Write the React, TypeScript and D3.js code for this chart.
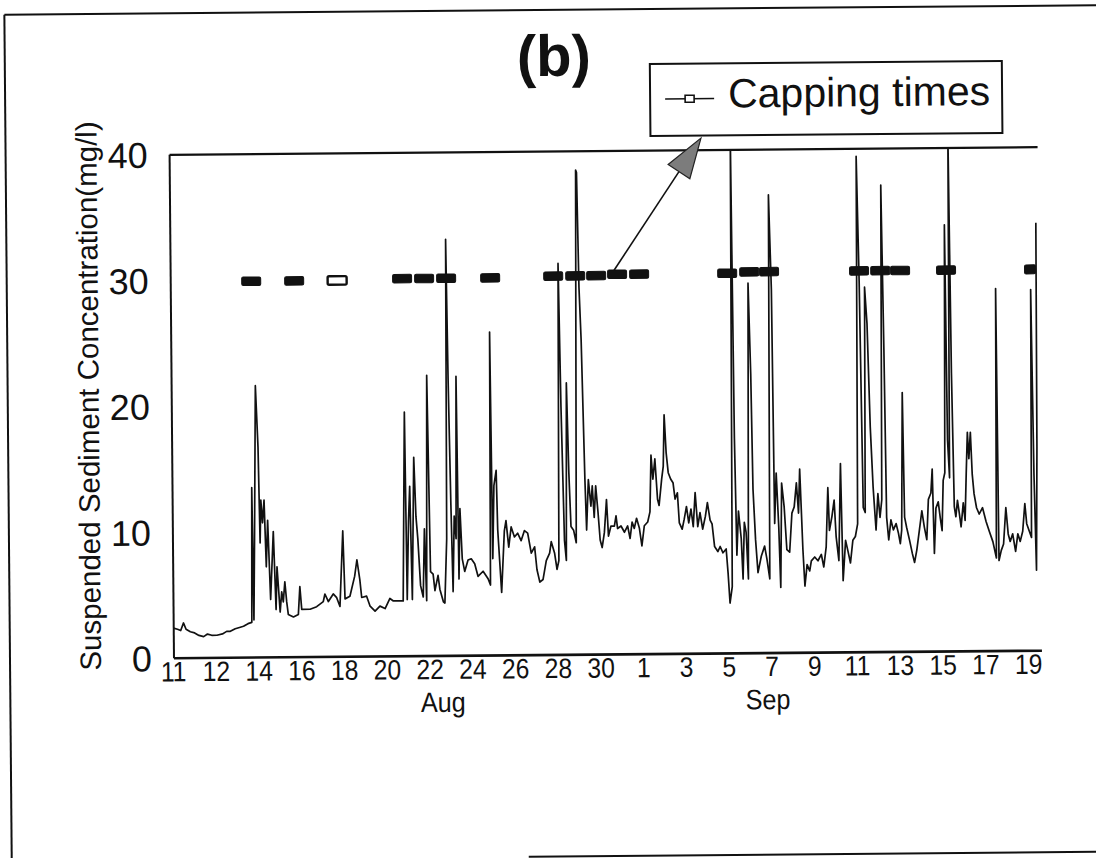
import React from "react";
import * as d3 from "d3";

// Day numbers count from 1 August (so 1 Sep = 32, 19 Sep = 50).
const tickDays = [10, 12, 14, 16, 18, 20, 22, 24, 26, 28, 30, 32, 34, 36, 38, 40, 42, 44, 46, 48, 50];
const tickLabels = ["11", "12", "14", "16", "18", "20", "22", "24", "26", "28", "30", "1", "3", "5", "7", "9", "11", "13", "15", "17", "19"];
const monthNames = ["Aug", "Sep"];
const monthCenters = [22.6, 37.8];
const yTicks = [0, 10, 20, 30, 40];

// Suspended sediment concentration record: [day, mg/l]
const sediment: [number, number][] = [
  [10.01, 2.4], [10.2, 2.3], [10.35, 2.2], [10.48, 2.8], [10.6, 2.3], [10.8, 2.1], [11.0, 2.0], [11.2, 1.8],
  [11.42, 1.7], [11.6, 1.9], [11.8, 1.8], [12.04, 1.8], [12.3, 1.9], [12.5, 2.1], [12.67, 2.1], [12.9, 2.3],
  [13.1, 2.4], [13.29, 2.5], [13.5, 2.7], [13.68, 2.8], [13.73, 13.5], [13.78, 3.0], [13.84, 9.4], [13.94, 21.6],
  [14.04, 16.7], [14.1, 9.1], [14.15, 12.5], [14.22, 10.7], [14.3, 12.5], [14.38, 7.2], [14.46, 10.9], [14.57, 4.6],
  [14.72, 10.0], [14.82, 3.8], [14.88, 7.2], [15.01, 3.6], [15.09, 5.2], [15.16, 4.4], [15.24, 6.0], [15.32, 4.4],
  [15.39, 3.4], [15.63, 3.2], [15.86, 3.4], [15.94, 5.6], [16.02, 3.8], [16.41, 3.8], [16.72, 4.0], [17.03, 4.4],
  [17.11, 5.0], [17.27, 4.4], [17.5, 5.0], [17.66, 4.7], [17.81, 4.0], [17.97, 10.0], [18.05, 4.6], [18.28, 4.8],
  [18.51, 6.4], [18.62, 7.7], [18.75, 6.1], [18.83, 4.7], [19.06, 4.8], [19.22, 4.0], [19.45, 3.6], [19.68, 4.0],
  [19.92, 3.8], [20.15, 4.6], [20.31, 4.4], [20.77, 4.4], [20.9, 19.4], [20.96, 4.5], [21.05, 10.7], [21.12, 13.5],
  [21.2, 4.5], [21.32, 15.8], [21.4, 11.1], [21.48, 9.3], [21.59, 5.6], [21.71, 4.7], [21.79, 10.1], [21.87, 4.4],
  [21.96, 22.3], [22.06, 6.7], [22.18, 6.5], [22.26, 5.2], [22.41, 6.4], [22.49, 5.3], [22.65, 4.3], [22.72, 4.2],
  [22.83, 9.3], [22.9, 33.1], [22.96, 22.0], [23.04, 12.0], [23.11, 5.1], [23.19, 11.1], [23.27, 9.3], [23.33, 22.2],
  [23.39, 6.1], [23.46, 11.7], [23.55, 7.7], [23.66, 6.7], [23.82, 7.6], [23.97, 7.7], [24.13, 7.3], [24.28, 6.3],
  [24.52, 6.7], [24.75, 6.1], [24.86, 5.6], [24.92, 25.7], [24.98, 7.7], [25.06, 13.5], [25.17, 14.7], [25.22, 10.0],
  [25.38, 5.0], [25.53, 9.9], [25.61, 10.7], [25.73, 8.6], [25.85, 10.2], [26.0, 9.4], [26.15, 9.7], [26.31, 9.1],
  [26.47, 9.9], [26.62, 9.7], [26.78, 8.1], [26.94, 8.6], [27.04, 6.8], [27.17, 5.8], [27.32, 6.0], [27.48, 7.5],
  [27.64, 8.1], [27.72, 9.0], [27.87, 8.1], [27.98, 6.8], [28.07, 7.5], [28.15, 31.1], [28.23, 19.7], [28.34, 9.1],
  [28.42, 7.5], [28.49, 21.6], [28.57, 14.5], [28.65, 10.2], [28.77, 9.9], [28.89, 8.9], [28.96, 26.4], [29.01, 38.5],
  [29.05, 38.3], [29.12, 29.2], [29.2, 25.0], [29.32, 13.9], [29.38, 9.9], [29.48, 13.9], [29.59, 11.8], [29.66, 13.4],
  [29.74, 10.9], [29.82, 13.4], [29.92, 11.3], [30.01, 9.1], [30.1, 8.5], [30.21, 9.7], [30.32, 12.3], [30.4, 9.4],
  [30.52, 10.2], [30.68, 10.2], [30.76, 11.0], [30.83, 10.0], [30.99, 10.2], [31.15, 9.7], [31.3, 10.2], [31.41, 9.2],
  [31.51, 10.5], [31.61, 10.0], [31.72, 10.8], [31.85, 10.0], [31.96, 8.6], [32.08, 10.2], [32.24, 10.5], [32.35, 11.3],
  [32.42, 15.8], [32.5, 13.9], [32.6, 15.5], [32.71, 12.3], [32.78, 11.8], [32.91, 13.9], [32.99, 14.9], [33.05, 19.0],
  [33.13, 16.0], [33.22, 14.4], [33.33, 13.9], [33.44, 13.6], [33.53, 12.3], [33.64, 12.8], [33.72, 10.4], [33.85, 9.9],
  [33.95, 10.7], [34.06, 11.7], [34.16, 10.4], [34.27, 11.5], [34.37, 10.1], [34.47, 12.8], [34.58, 10.1], [34.69, 11.2],
  [34.81, 9.9], [34.94, 10.9], [35.04, 12.0], [35.16, 10.6], [35.25, 10.3], [35.36, 8.5], [35.51, 8.1], [35.62, 8.5],
  [35.75, 8.0], [35.9, 8.3], [35.98, 6.4], [36.06, 4.0], [36.17, 5.3], [36.26, 41.0], [36.33, 17.1], [36.4, 7.8],
  [36.49, 11.3], [36.61, 9.1], [36.68, 5.9], [36.76, 10.4], [36.84, 9.6], [36.93, 5.9], [37.03, 29.4], [37.12, 22.2],
  [37.18, 13.0], [37.28, 9.0], [37.38, 6.4], [37.54, 7.7], [37.7, 8.5], [37.8, 7.5], [37.93, 5.9], [38.02, 36.4],
  [38.12, 28.9], [38.18, 10.3], [38.27, 14.3], [38.37, 10.0], [38.44, 5.2], [38.52, 13.5], [38.63, 11.6], [38.74, 8.2],
  [38.87, 8.0], [38.99, 11.1], [39.1, 11.6], [39.21, 13.5], [39.3, 11.1], [39.37, 14.6], [39.49, 8.2], [39.57, 5.3],
  [39.68, 7.0], [39.8, 6.5], [39.88, 7.3], [40.04, 7.6], [40.19, 7.3], [40.35, 7.8], [40.46, 6.8], [40.58, 8.4],
  [40.68, 13.1], [40.74, 9.7], [40.86, 10.8], [40.97, 12.1], [41.05, 9.2], [41.17, 7.3], [41.28, 15.0], [41.36, 5.7],
  [41.49, 8.9], [41.59, 8.1], [41.71, 7.1], [41.83, 8.9], [41.95, 9.2], [42.06, 10.2], [42.14, 39.4], [42.23, 29.5],
  [42.33, 11.5], [42.42, 11.1], [42.48, 29.0], [42.58, 26.1], [42.69, 17.9], [42.8, 13.1], [42.92, 9.7], [43.02, 12.6],
  [43.11, 10.7], [43.2, 12.1], [43.28, 37.1], [43.36, 24.0], [43.42, 10.7], [43.51, 8.9], [43.62, 10.5], [43.73, 9.7],
  [43.86, 10.2], [43.97, 9.4], [44.05, 8.6], [44.12, 9.7], [44.2, 20.6], [44.26, 10.7], [44.35, 9.9], [44.48, 8.9],
  [44.61, 7.8], [44.71, 7.1], [44.82, 8.1], [44.95, 9.7], [45.07, 11.2], [45.18, 9.9], [45.29, 8.9], [45.38, 12.1],
  [45.5, 12.6], [45.57, 14.5], [45.64, 7.8], [45.73, 11.4], [45.84, 11.9], [45.93, 10.6], [46.01, 9.6], [46.08, 13.6],
  [46.16, 14.2], [46.24, 33.9], [46.3, 16.8], [46.38, 13.8], [46.44, 41.0], [46.51, 22.1], [46.59, 11.5], [46.66, 10.7],
  [46.74, 12.0], [46.82, 11.0], [46.9, 9.9], [47.01, 11.8], [47.09, 10.4], [47.16, 14.1], [47.23, 17.4], [47.29, 15.3],
  [47.37, 17.4], [47.44, 14.1], [47.52, 12.5], [47.63, 11.4], [47.75, 10.9], [47.91, 11.4], [48.07, 10.3], [48.22, 9.5],
  [48.38, 8.7], [48.54, 7.4], [48.61, 28.8], [48.66, 7.2], [48.77, 8.0], [48.88, 8.5], [49.0, 11.4], [49.1, 9.3],
  [49.19, 8.7], [49.31, 9.3], [49.44, 7.9], [49.55, 9.3], [49.66, 8.7], [49.78, 9.5], [49.89, 11.7], [49.97, 10.1],
  [50.09, 9.5], [50.19, 9.0], [50.25, 28.7], [50.33, 14.0], [50.41, 6.4], [50.48, 16.2], [50.52, 34.0],
];

// Capping events
const cappingDays = [13.79, 15.8, 17.81, 20.85, 21.88, 22.91, 24.97, 27.92, 28.95, 29.93, 30.91, 31.94, 36.06, 37.09, 38.02, 42.23, 43.22, 44.15, 46.3, 50.23];
const cappingLevels = [29.9, 29.9, 29.9, 30.0, 30.0, 30.0, 30.0, 30.1, 30.1, 30.1, 30.2, 30.2, 30.2, 30.3, 30.3, 30.3, 30.3, 30.3, 30.3, 30.3];
const hollowCaps = [17.81];
const legendLabel = "Capping times";
const yTitle = "Suspended Sediment Concentration(mg/l)";
const panelTitle = "(b)";

const W = 1096;
const H = 858;
const plot = { left: 172, right: 1040, top: 151.5, bottom: 655 };
const FONT = "'Liberation Sans', Arial, Helvetica, sans-serif";

export default function App() {
  const x = d3.scaleLinear().domain([10, 50]).range([171.5, 1026.5]);
  const y = d3.scaleLinear().domain([0, 40]).range([plot.bottom, plot.top]);

  const line = d3
    .line<[number, number]>()
    .x((d) => x(d[0]))
    .y((d) => y(d[1]))
    .curve(d3.curveLinear);

  const arrowTail: [number, number] = [x(30.91) - 3, y(30.2) - 4];
  const arrowTip: [number, number] = [703.5, 139.5];
  const ang = Math.atan2(arrowTip[1] - arrowTail[1], arrowTip[0] - arrowTail[0]);
  const headLen = 40;
  const headHalf = 13;
  const baseX = arrowTip[0] - headLen * Math.cos(ang);
  const baseY = arrowTip[1] - headLen * Math.sin(ang);
  const px = -Math.sin(ang);
  const py = Math.cos(ang);
  const head = `M${arrowTip[0]},${arrowTip[1]} L${baseX + headHalf * px},${baseY + headHalf * py} L${baseX - headHalf * px},${baseY - headHalf * py} Z`;

  return (
    <svg
      width={W}
      height={H}
      viewBox={`0 0 ${W} ${H}`}
      style={{ position: "absolute", left: 0, top: 0, background: "#fff" }}
      fontFamily={FONT}
    >
      <defs>
        <clipPath id="plotClip">
          <rect x={plot.left} y={plot.top} width={plot.right - plot.left} height={plot.bottom - plot.top} />
        </clipPath>
      </defs>
      <rect x={0} y={0} width={W} height={H} fill="#fff" />
      <g transform="rotate(-0.5 548 429)">
        {/* outer figure frame: left, top and lower-right edges */}
        <line x1={8} x2={8} y1={10} y2={870} stroke="#111" strokeWidth={2} />
        <line x1={8} x2={1110} y1={10} y2={10} stroke="#111" strokeWidth={2} />
        <line x1={525} x2={1110} y1={856.5} y2={856.5} stroke="#111" strokeWidth={2} />

        {/* panel title */}
        <text x={557} y={76} textAnchor="middle" fontSize={58} fontWeight="bold" fill="#111">
          {panelTitle}
        </text>

        {/* data trace */}
        <path d={line(sediment) || ""} fill="none" stroke="#111" strokeWidth={1.7} strokeLinejoin="round" clipPath="url(#plotClip)" />

        {/* capping markers */}
        {cappingDays.map((d, i) => {
          const last = i === cappingDays.length - 1;
          const w = last ? 11 : 19;
          const h = last ? 9 : 8.5;
          const hollow = hollowCaps.includes(d);
          return (
            <rect
              key={i}
              x={x(d) - w / 2}
              y={y(cappingLevels[i]) - h / 2}
              width={w}
              height={h}
              rx={1.5}
              fill={hollow ? "#fff" : "#111"}
              stroke="#111"
              strokeWidth={hollow ? 2.4 : 1}
            />
          );
        })}

        {/* axes frame: left, bottom, top */}
        <line x1={plot.left} x2={plot.left} y1={plot.top} y2={plot.bottom} stroke="#111" strokeWidth={2} />
        <line x1={plot.left} x2={plot.right} y1={plot.bottom} y2={plot.bottom} stroke="#111" strokeWidth={2.6} />
        <line x1={plot.left} x2={plot.right} y1={plot.top} y2={plot.top} stroke="#111" strokeWidth={2.2} />

        {/* y ticks */}
        {yTicks.map((t) => (
          <text key={t} x={150} y={y(t)} dy="0.36em" textAnchor="end" fontSize={36} fill="#111">
            {t}
          </text>
        ))}
        <text transform={`translate(99,392) rotate(-90)`} textAnchor="middle" fontSize={29.5} fill="#111">
          {yTitle}
        </text>

        {/* x ticks */}
        {tickDays.map((d, i) => (
          <text key={i} transform={`translate(${x(d)},678) scale(0.88,1)`} textAnchor="middle" fontSize={28} fill="#111">
            {tickLabels[i]}
          </text>
        ))}
        {monthNames.map((m, i) => (
          <text key={m} transform={`translate(${x(monthCenters[i])},711) scale(0.9,1)`} textAnchor="middle" fontSize={28} fill="#111">
            {m}
          </text>
        ))}

        {/* legend */}
        <rect x={653} y={65} width={352} height={72} fill="#fff" stroke="#111" strokeWidth={2} />
        <line x1={668} x2={717} y1={100} y2={100} stroke="#111" strokeWidth={1.6} />
        <rect x={688} y={96.5} width={9} height={7} fill="#fff" stroke="#111" strokeWidth={1.6} />
        <text x={731} y={109} fontSize={41} fill="#111">
          {legendLabel}
        </text>

        {/* pointer to capping markers */}
        <line x1={arrowTail[0]} y1={arrowTail[1]} x2={baseX} y2={baseY} stroke="#111" strokeWidth={1.6} />
        <path d={head} fill="#7c7c7c" stroke="#222" strokeWidth={1.2} />
      </g>
    </svg>
  );
}
